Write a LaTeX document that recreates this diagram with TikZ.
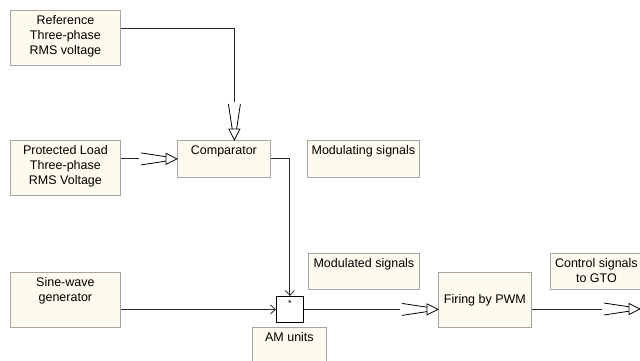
\documentclass[tikz,border=0pt]{standalone}
\usepackage{fontspec}
\setmainfont{Liberation Sans}
\usetikzlibrary{arrows.meta}
\definecolor{boxfill}{RGB}{254,250,238}
\definecolor{boxgray}{RGB}{165,165,165}
\definecolor{wirec}{RGB}{40,40,40}
\tikzset{
  vecarrow/.pic={
    \draw[line width=0.8pt, black] (-36pt,6pt) -- (-11pt,2.2pt) (-36pt,-6pt) -- (-11pt,-2.2pt);
    \draw[line width=0.8pt, black, fill=white, line join=miter] (0pt,0pt) -- (-11pt,5.5pt) -- (-11pt,-5.5pt) -- cycle;
  }
}
\begin{document}
\begin{tikzpicture}[x=1pt,y=-1pt,
  box/.style={draw=boxgray, fill=boxfill, line width=0.8pt, inner sep=0pt, anchor=north west},
  txt/.style={font=\fontsize{12.5}{15}\selectfont, align=center, inner sep=0pt, anchor=north, yshift=-5.5pt},
  wire/.style={draw=wirec, line width=0.9pt},
  scal/.style={-{Straight Barb[length=5pt,width=9pt,line width=0.8pt]}}
]
\useasboundingbox (0,0) rectangle (640,360);

% boxes
\node[box, minimum width=110pt, minimum height=55pt,
  label={[txt]north:{Reference\\Three-phase\\RMS voltage}}] (ref) at (10,10) {};
\node[box, minimum width=110pt, minimum height=55pt,
  label={[txt]north:{Protected Load\\Three-phase\\RMS Voltage}}] (prot) at (10,140) {};
\node[box, minimum width=93pt, minimum height=37pt,
  label={[txt]north:{Comparator}}] (comp) at (177,140) {};
\node[box, minimum width=112pt, minimum height=37pt,
  label={[txt]north:{Modulating signals}}] (modg) at (307,140) {};
\node[box, minimum width=111pt, minimum height=36pt,
  label={[txt]north:{Modulated signals}}] (modd) at (308,253) {};
\node[box, minimum width=110pt, minimum height=55pt,
  label={[txt]north:{Sine-wave\\generator}}] (sine) at (10,272) {};
\node[draw=black, fill=white, line width=0.8pt, minimum width=27pt, minimum height=26pt,
  inner sep=0pt, anchor=north west,
  label={[font=\fontsize{9}{9}\selectfont, anchor=north, inner sep=0pt, yshift=-4pt]north:*}] (am) at (276,296) {};
\node[box, minimum width=74pt, minimum height=40pt,
  label={[txt]north:{AM units}}] (amlbl) at (252,327) {};
\node[box, minimum width=93pt, minimum height=55pt,
  font=\fontsize{12.5}{15}\selectfont] (fire) at (438,272) {Firing by PWM};
\node[box, minimum width=92pt, minimum height=36pt,
  label={[txt]north:{Control signals\\to GTO}}] (ctrl) at (550,253) {};
\coordinate (out) at (640,309);

% connectors
\draw[wire, shorten >=38pt] ([yshift=9.5pt]ref.east) -| ([xshift=10.5pt]comp.north);
\pic[rotate=-90] at ([xshift=10.5pt]comp.north) {vecarrow};

\draw[wire, shorten >=38pt] (prot.east |- comp.west) -- (comp.west);
\pic at (comp.west) {vecarrow};

\draw[wire, scal] (comp.east) -| (am.north);

\draw[wire, scal] (sine.east |- am.west) -- (am.west);

\draw[wire, shorten >=38pt] (am.east) -- (am.east -| fire.west);
\pic at (am.east -| fire.west) {vecarrow};

\draw[wire, shorten >=38pt] (fire.east |- out) -- (out);
\pic at (out) {vecarrow};
\end{tikzpicture}
\end{document}
